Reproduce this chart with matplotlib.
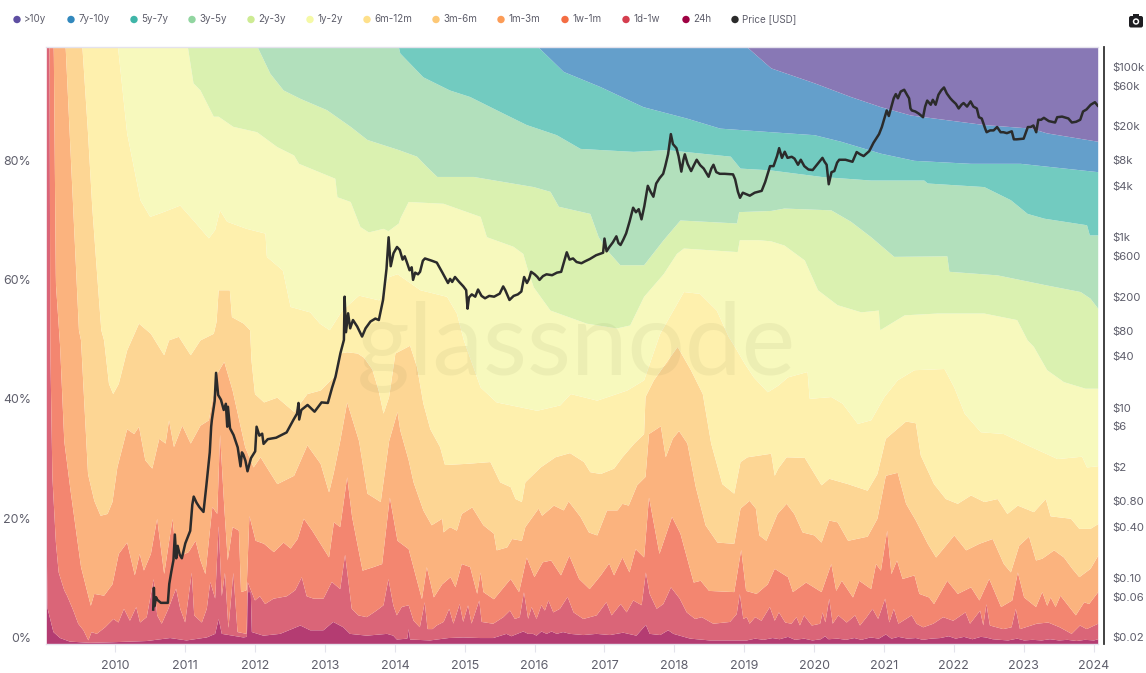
import numpy as np
import matplotlib
matplotlib.use("Agg")
import matplotlib.pyplot as plt
from matplotlib.patches import FancyBboxPatch, Circle, Rectangle
from matplotlib.transforms import Affine2D

W, H = 1146, 673
plt.rcParams['font.family'] = ['Inter', 'DejaVu Sans']

legend_names = ['>10y', '7y-10y', '5y-7y', '3y-5y', '2y-3y', '1y-2y', '6m-12m', '3m-6m', '1m-3m', '1w-1m', '1d-1w', '24h', 'Price [USD]']
legend_dots = ['#5E4FA2', '#3288BD', '#3FB5A8', '#91D5A0', '#CDEB93', '#F5F9A6', '#FEE08B', '#FDC876', '#FC9C57', '#F46D43', '#D53E4F', '#9E0142', '#2B2B2B']
legend_dot_x = [17, 71, 134, 192, 251, 310, 367, 436, 501, 565, 626, 686, 735]
band_colors = ['#B43C72', '#DA6578', '#F38670', '#FBB37E', '#FDD694', '#FEF0AD', '#F7F9BD', '#DAF1B0', '#B2E0BC', '#72CBC0', '#649FCB', '#8878B5']

year_ticks = list(range(2010, 2025))
pct_ticks = [0, 20, 40, 60, 80]
price_ticks = [0.02, 0.06, 0.10, 0.40, 0.80, 2, 6, 10, 40, 80, 200, 600, 1000, 4000, 8000, 20000, 60000, 100000]
price_labels = ['$0.02', '$0.06', '$0.10', '$0.40', '$0.80', '$2', '$6', '$10', '$40', '$80', '$200', '$600', '$1k', '$4k', '$8k', '$20k', '$60k', '$100k']

# cumulative tops of each band, (year, percent)
top_24h = [(2009.01,100),(2009.012,14),(2009.02,6),(2009.105,2),(2009.2,1),(2009.34,.4),(2009.63,.2),(2009.96,.3),(2010.44,.5),(2010.775,1),(2011.01,.6),(2011.30,1.1),(2011.42,1.7),(2011.47,4.2),(2011.515,1.7),(2011.825,1.1),(2011.875,1.2),(2011.885,8.7),(2011.93,8.7),(2011.945,2),(2012.11,1.4),(2012.35,1.7),(2012.64,3.1),(2012.78,2.3),(2012.97,2.3),(2013.11,3.7),(2013.255,2.8),(2013.35,1.7),(2013.59,1.4),(2013.88,1.7),(2013.97,1.4),(2014.02,.75),(2014.17,.9),(2014.19,2.5),(2014.21,.75),(2014.495,.6),(2014.76,1),(2014.97,1.1),(2015.21,1),(2015.40,1),(2015.59,1.7),(2015.66,1.3),(2015.83,2.1),(2015.9,1.7),(2015.97,1.7),(2016.02,1.4),(2016.09,2.1),(2016.165,1.7),(2016.235,2.1),(2016.31,1.7),(2016.40,2),(2016.5,1.7),(2016.69,1.5),(2016.88,1.7),(2017.07,1.5),(2017.26,1.9),(2017.45,1.4),(2017.585,3.2),(2017.64,1.7),(2017.79,1.5),(2017.905,2.3),(2017.98,1.7),(2018.07,1.4),(2018.22,.9),(2018.5,.6),(2018.79,.6),(2019.03,.6),(2019.15,.9),(2019.27,.7),(2019.4,1),(2019.5,.8),(2019.62,1.2),(2019.72,.7),(2019.85,.9),(2019.97,.6),(2020.09,.8),(2020.15,1.3),(2020.2,.8),(2020.33,.9),(2020.45,.7),(2020.57,1),(2020.67,.7),(2020.8,1.1),(2020.92,.9),(2021.02,1.6),(2021.1,.9),(2021.2,1.2),(2021.33,.9),(2021.45,1),(2021.55,.7),(2021.67,.9),(2021.8,1),(2021.92,1.3),(2022.02,.9),(2022.14,1.2),(2022.26,.8),(2022.38,1.2),(2022.45,1.1),(2022.55,.8),(2022.65,.7),(2022.77,.6),(2022.9,.9),(2023,.6),(2023.12,.7),(2023.25,.6),(2023.37,.8),(2023.5,.6),(2023.62,.7),(2023.75,.5),(2023.87,.7),(2024,.6),(2024.06,.8)]
top_1d = [(2009.01,100),(2009.05,100),(2009.06,50),(2009.09,28),(2009.14,17),(2009.18,12),(2009.26,9),(2009.30,8.1),(2009.39,5.6),(2009.46,3.4),(2009.535,2.3),(2009.605,.6),(2009.65,2),(2009.725,1.7),(2009.845,2.8),(2009.965,4.2),(2010.035,3.6),(2010.115,5.9),(2010.2,3.9),(2010.29,6.2),(2010.345,3.6),(2010.44,4.5),(2010.54,10.9),(2010.59,4.8),(2010.655,3.4),(2010.75,5.9),(2010.86,9.3),(2010.92,5.9),(2010.99,3.6),(2011.085,12),(2011.12,4.8),(2011.23,3.6),(2011.30,5.9),(2011.35,10.4),(2011.42,7.6),(2011.47,20),(2011.515,8),(2011.56,12),(2011.61,2.6),(2011.68,12),(2011.74,2),(2011.87,1.7),(2011.885,10.4),(2011.99,7.3),(2012.06,8),(2012.135,6.7),(2012.255,7.6),(2012.445,8),(2012.565,9),(2012.66,11.2),(2012.73,8),(2012.83,7.6),(2012.97,7.6),(2013.09,10.4),(2013.21,9.2),(2013.28,15),(2013.375,5.9),(2013.47,4.8),(2013.59,4.5),(2013.73,5.6),(2013.83,6.5),(2013.9,10.9),(2013.97,6.5),(2014.02,4.8),(2014.09,6.2),(2014.19,6.5),(2014.26,3.9),(2014.35,2.8),(2014.42,7),(2014.46,2.5),(2014.53,2.5),(2014.59,3.1),(2014.69,3.7),(2014.77,5.9),(2014.83,3.4),(2014.92,6.7),(2014.97,3.7),(2015.04,6.5),(2015.09,3.4),(2015.2,7.3),(2015.235,3.7),(2015.40,3.4),(2015.545,4.5),(2015.64,5.6),(2015.71,4.2),(2015.78,4.5),(2015.84,8.7),(2015.9,4.2),(2015.95,6.2),(2016.02,4.2),(2016.09,6.5),(2016.14,5.6),(2016.19,7.3),(2016.26,5.3),(2016.355,5.9),(2016.465,7.9),(2016.55,5.3),(2016.69,4.2),(2016.88,4.8),(2017.02,7),(2017.095,4.8),(2017.225,6.7),(2017.31,5.3),(2017.405,7.3),(2017.525,6.5),(2017.585,12),(2017.64,8.4),(2017.74,5.9),(2017.835,6.7),(2017.945,9.5),(2018.07,7.6),(2018.17,5.3),(2018.29,4.2),(2018.385,4.5),(2018.55,3.4),(2018.79,3.7),(2018.885,5),(2018.93,8.4),(2018.98,4.2),(2019.03,4.5),(2019.07,3.4),(2019.15,4.5),(2019.24,3.9),(2019.36,6.2),(2019.43,3.9),(2019.49,5.3),(2019.58,3.6),(2019.67,3.4),(2019.74,4.5),(2019.79,3.1),(2019.85,4.8),(2019.96,3.1),(2020.08,3.4),(2020.115,5.3),(2020.155,3.6),(2020.21,7.6),(2020.26,3.4),(2020.34,4.8),(2020.46,3.6),(2020.58,4.8),(2020.65,3.1),(2020.745,4.5),(2020.83,5.9),(2020.91,4.2),(2021.01,7.6),(2021.07,3.6),(2021.135,5.9),(2021.2,3.4),(2021.39,4.8),(2021.46,3.4),(2021.555,2.8),(2021.7,3.4),(2021.84,4.5),(2021.985,3.9),(2022.16,5.3),(2022.225,3.4),(2022.37,5.6),(2022.415,3.1),(2022.46,6.7),(2022.51,3.1),(2022.7,2.5),(2022.82,2.8),(2022.88,5.9),(2022.94,2.5),(2023.18,3.4),(2023.345,3.6),(2023.51,2.8),(2023.68,1.7),(2023.8,3.1),(2023.895,2.5),(2024.06,3.4)]
top_1w = [(2009.01,100),(2009.11,100),(2009.14,60.4),(2009.2,50),(2009.26,34),(2009.35,25.7),(2009.5,12.9),(2009.64,6.4),(2009.69,8.4),(2009.83,8.1),(2009.95,10),(2010.04,15.1),(2010.16,17),(2010.27,11.5),(2010.34,15.1),(2010.40,12.3),(2010.5,15.1),(2010.59,21),(2010.69,11.7),(2010.81,21),(2010.86,15.1),(2010.93,14.8),(2011.04,15.4),(2011.14,17.3),(2011.21,14),(2011.28,11.7),(2011.38,23),(2011.45,21.8),(2011.49,35.2),(2011.55,23),(2011.6,14),(2011.67,19.6),(2011.76,19),(2011.79,8.7),(2011.87,9),(2011.91,21.5),(2012,17.3),(2012.12,16.8),(2012.26,15.4),(2012.4,17),(2012.5,16),(2012.6,17.6),(2012.69,21),(2012.81,19),(2013.05,14.5),(2013.12,20.4),(2013.21,19.6),(2013.31,28),(2013.38,21.3),(2013.53,12.3),(2013.69,12.9),(2013.81,13.4),(2013.92,24.6),(2014.03,17.3),(2014.19,15.9),(2014.38,7.5),(2014.45,12.9),(2014.55,7.8),(2014.67,10),(2014.79,11.2),(2014.86,9.5),(2014.95,13.4),(2015.07,12.9),(2015.17,8.4),(2015.22,12),(2015.26,8.7),(2015.41,7.5),(2015.53,9.2),(2015.65,10.9),(2015.77,8.7),(2015.88,14.5),(2015.99,11.2),(2016.11,13.7),(2016.23,14),(2016.37,11.5),(2016.49,14.8),(2016.63,10.9),(2016.78,9.2),(2016.94,11.5),(2017.06,13.5),(2017.13,11.5),(2017.25,14.5),(2017.35,12),(2017.44,15.9),(2017.56,14.5),(2017.63,24.6),(2017.78,15.1),(2017.96,21.3),(2018.08,18.5),(2018.27,10.3),(2018.37,10.6),(2018.49,8.9),(2018.85,8.7),(2018.95,15.8),(2019.02,8.9),(2019.17,8.4),(2019.33,10),(2019.43,12.6),(2019.62,11.2),(2019.69,8.7),(2019.88,10.3),(2020.1,8.7),(2020.24,13.4),(2020.31,8.9),(2020.39,10.6),(2020.55,7.8),(2020.64,10.6),(2020.81,9.2),(2020.88,13.4),(2020.95,12.3),(2021.04,19),(2021.1,11.7),(2021.18,14),(2021.26,10.9),(2021.43,11.5),(2021.5,8.4),(2021.64,7.8),(2021.71,6.7),(2021.9,10.6),(2022.05,8.4),(2022.24,9.5),(2022.36,7.3),(2022.5,10.9),(2022.67,6.2),(2022.83,7.3),(2022.91,12),(2023,7.8),(2023.17,6.2),(2023.26,8.7),(2023.33,6.4),(2023.38,7.8),(2023.45,6.2),(2023.52,8.1),(2023.74,4.8),(2023.86,7),(2023.93,6.7),(2024.06,8.7)]
top_1m = [(2009.01,100),(2009.28,100),(2009.47,52.6),(2009.5,50.9),(2009.55,39.7),(2009.6,28.5),(2009.69,24),(2009.78,21.5),(2009.88,21.8),(2009.95,23.8),(2010.02,29.6),(2010.16,36),(2010.26,35.2),(2010.33,36.4),(2010.42,30.8),(2010.52,29.4),(2010.62,34.4),(2010.71,33.6),(2010.76,37.5),(2010.83,33),(2010.95,36.6),(2011.07,33.6),(2011.21,36.6),(2011.33,37.5),(2011.45,45.3),(2011.55,47.3),(2011.67,42.5),(2011.85,33),(2011.97,29.6),(2012.07,31.3),(2012.17,29.4),(2012.31,26.8),(2012.55,28.2),(2012.74,33.3),(2012.93,30.2),(2013.05,25.4),(2013.12,28.8),(2013.21,34),(2013.31,40.5),(2013.48,34),(2013.6,25.2),(2013.79,23.8),(2013.91,34),(2014.03,38.9),(2014.07,35.8),(2014.19,30.8),(2014.26,27.1),(2014.4,22.4),(2014.52,19.9),(2014.67,21),(2014.69,18.7),(2014.78,19.6),(2014.88,19),(2014.95,21.8),(2015.1,22.9),(2015.26,19.9),(2015.41,18.5),(2015.45,15.7),(2015.6,16.2),(2015.67,17.6),(2015.81,17.3),(2015.86,19.6),(2016.05,22.7),(2016.1,21.5),(2016.27,23.2),(2016.41,22.4),(2016.48,23.9),(2016.65,21.3),(2016.77,18.7),(2016.89,18.2),(2017.03,22.4),(2017.18,22.4),(2017.25,23.5),(2017.34,23.2),(2017.46,26.6),(2017.58,28),(2017.63,35.2),(2017.8,36.5),(2017.87,31.3),(2017.97,34.4),(2018.06,35.7),(2018.18,33.6),(2018.3,26.3),(2018.44,19.9),(2018.61,17),(2018.85,16.8),(2018.94,22.7),(2019.07,24),(2019.16,22.7),(2019.21,18.2),(2019.31,17.3),(2019.47,21.8),(2019.6,23.5),(2019.71,21.8),(2019.83,18.7),(2020,18.2),(2020.1,17),(2020.21,20.7),(2020.33,20.4),(2020.48,17.3),(2020.76,18),(2020.9,21),(2021.02,28.2),(2021.19,28.7),(2021.31,23.5),(2021.45,20.7),(2021.62,16.8),(2021.74,14.5),(2021.86,16.2),(2022,18.2),(2022.17,15.7),(2022.36,16.8),(2022.55,17.6),(2022.71,13.4),(2022.81,12),(2022.93,16.5),(2023.07,18),(2023.17,14),(2023.26,14.3),(2023.43,15.7),(2023.57,14.5),(2023.69,12.6),(2023.79,11.2),(2023.95,12.6),(2024.06,14.8)]
top_3m = [(2009.01,100),(2009.52,100),(2009.6,85.6),(2009.66,73.3),(2009.73,62),(2009.79,52.6),(2009.83,50.9),(2009.9,43.6),(2009.96,41.9),(2010.04,43.6),(2010.16,49.2),(2010.33,53.7),(2010.5,52),(2010.69,48.4),(2010.76,50.9),(2010.9,51.5),(2011.07,48.4),(2011.21,50.9),(2011.4,52),(2011.44,54),(2011.47,59.3),(2011.63,59.3),(2011.66,54.8),(2011.83,53.7),(2011.92,52.6),(2011.94,47.5),(2011.99,41.9),(2012.12,40.5),(2012.31,41.3),(2012.55,38.9),(2012.74,41.9),(2012.93,42.5),(2013.12,44.7),(2013.21,48.7),(2013.31,48.9),(2013.46,48.7),(2013.55,48),(2013.67,46),(2013.76,42.5),(2013.83,38.6),(2013.91,41.4),(2014,48.7),(2014.21,50),(2014.31,46.4),(2014.4,40.3),(2014.5,36),(2014.64,33),(2014.71,30),(2015.02,30.2),(2015.36,30.5),(2015.5,27.1),(2015.65,26.3),(2015.72,24.3),(2015.81,23.8),(2015.86,27.1),(2016.08,29.6),(2016.29,31.3),(2016.5,32),(2016.7,30.5),(2016.79,28.8),(2016.94,28.5),(2017.13,29.4),(2017.25,31.3),(2017.42,33.6),(2017.56,35.2),(2017.58,41.4),(2017.7,44.2),(2018.04,49.8),(2018.23,45.9),(2018.4,41.9),(2018.52,33.6),(2018.68,26.8),(2018.85,25.2),(2018.94,30.5),(2019.04,31.3),(2019.38,31.9),(2019.43,28.2),(2019.48,29.4),(2019.6,31.3),(2019.86,31.2),(2020.1,26.6),(2020.21,27.7),(2020.48,26.8),(2020.76,25.7),(2020.9,28.5),(2021.02,34.4),(2021.31,37.3),(2021.45,37),(2021.52,31.6),(2021.71,26.8),(2021.88,24.3),(2022.05,23.5),(2022.24,24.9),(2022.43,23.8),(2022.62,24.3),(2022.76,21.8),(2022.91,23.2),(2023.14,22.1),(2023.31,24.3),(2023.38,21.4),(2023.67,21),(2023.79,19.3),(2023.95,19.3),(2024.06,20.1)]
top_6m = [(2009.01,100),(2010.03,100),(2010.16,85.6),(2010.35,74.4),(2010.49,71.6),(2010.68,72.4),(2010.92,73.5),(2011.11,71),(2011.33,68),(2011.42,69.4),(2011.49,72.7),(2011.59,70.8),(2011.87,69.6),(2012.14,68.8),(2012.16,64.9),(2012.39,62.6),(2012.5,56.5),(2012.78,55.6),(2012.92,53.7),(2013.06,52.6),(2013.24,55.9),(2013.48,58.4),(2013.77,57.6),(2013.91,61.5),(2014.03,62),(2014.36,59.3),(2014.74,58.2),(2014.88,55.4),(2014.98,50.9),(2015.22,43),(2015.45,40.5),(2016.03,39.1),(2016.36,40),(2016.51,41.9),(2016.89,40.8),(2017.32,42.5),(2017.56,44.2),(2017.79,52),(2018.13,59),(2018.36,58.7),(2018.6,55.9),(2018.77,51.5),(2018.85,50),(2019,47),(2019.13,44.7),(2019.33,42.2),(2019.48,43.3),(2019.62,44.7),(2019.9,45.6),(2019.93,41.1),(2020.24,41.4),(2020.4,40.3),(2020.62,36.9),(2020.81,37.5),(2021,41.4),(2021.19,44.2),(2021.43,45.9),(2021.86,46.1),(2022,43),(2022.15,38.6),(2022.38,35.5),(2022.71,35.2),(2023.05,33.3),(2023.48,31),(2023.83,31.4),(2023.9,29.6),(2024.06,29.8)]
top_1y = [(2009.01,100),(2011.03,100),(2011.11,94),(2011.21,92.8),(2011.4,88.4),(2011.47,88.4),(2011.68,86.7),(2012.02,85.8),(2012.31,83.3),(2012.55,81.9),(2012.62,80.5),(2013.14,78),(2013.17,74.9),(2013.36,74.1),(2013.5,69.9),(2013.62,69),(2013.83,69.6),(2013.9,69.2),(2014.05,70.5),(2014.07,71.3),(2014.19,74.1),(2014.69,73.8),(2015.22,71.6),(2015.31,68.2),(2015.69,66.6),(2015.83,65.4),(2015.9,62.6),(2015.98,59.8),(2016.22,55.9),(2016.74,53.7),(2017.17,52.9),(2017.36,53.4),(2017.56,58.2),(2017.84,62),(2018.03,65.4),(2018.13,66.3),(2018.9,65.7),(2018.93,67.7),(2019.2,67.7),(2019.38,67.5),(2019.57,66.8),(2019.86,64.3),(2020.05,59.3),(2020.33,56.8),(2020.67,55.6),(2020.92,55.9),(2020.94,52.6),(2021.29,55.1),(2021.76,55.4),(2022.43,55.4),(2022.9,54.3),(2023.05,50.9),(2023.14,49.8),(2023.33,45.9),(2023.57,43.9),(2023.88,42.8),(2024.06,42.8)]
top_2y = [(2009.01,100),(2012.03,100),(2012.21,95.6),(2012.4,92.8),(2012.64,91.4),(2013.02,89.5),(2013.36,86.7),(2013.6,84.5),(2014.05,82.8),(2014.31,81.7),(2014.45,80),(2014.6,78.3),(2015.12,78.3),(2015.98,76.6),(2016.22,75.8),(2016.34,73.3),(2016.79,72.1),(2016.91,68.2),(2017.03,66),(2017.22,63.5),(2017.56,63.5),(2017.84,67.7),(2018.08,71),(2018.89,70.5),(2018.92,72.4),(2019.38,72.6),(2019.57,73),(2020.24,72.7),(2020.52,70.8),(2020.81,68.2),(2021.14,64.9),(2021.9,65),(2021.93,62.4),(2022.62,61.8),(2023.33,60.1),(2023.81,59),(2023.95,57.9),(2024.06,56.2)]
top_3y = [(2009.01,100),(2014.05,100),(2014.07,99),(2014.4,95),(2014.78,92.8),(2015.07,91.7),(2015.55,88.9),(2015.88,87),(2016.31,85.3),(2016.65,83),(2017.41,82.5),(2017.89,82.8),(2018.8,81.7),(2018.94,79.7),(2019.37,79.4),(2020.1,78.3),(2020.81,77.7),(2021.57,77.7),(2021.62,77.2),(2022.43,76.6),(2022.81,74.4),(2023.05,72.1),(2023.29,71.3),(2023.9,70.2),(2023.94,68.5),(2024.06,68.5)]
top_5y = [(2009.01,100),(2016.05,100),(2016.41,95.9),(2016.93,93.4),(2017.55,90),(2018.17,88.1),(2018.65,86.4),(2019.38,85.8),(2020,85.3),(2020.38,84.2),(2020.95,82.2),(2021.43,81),(2022.24,80.5),(2022.95,80.5),(2024.06,79.1)]
top_7y = [(2009.01,100),(2019.04,100),(2019.38,96.5),(2020,94),(2020.52,91.7),(2020.95,90),(2021.38,88.6),(2022.43,87),(2023.1,86.4),(2023.33,85.6),(2024.06,84.2)]
band_tops = [top_24h, top_1d, top_1w, top_1m, top_3m, top_6m, top_1y, top_2y, top_3y, top_5y, top_7y]

# price (year, USD)
price = [(2010.54,.05),(2010.55,.09),(2010.56,.055),(2010.58,.07),(2010.6,.065),(2010.65,.06),(2010.75,.06),(2010.77,.1),(2010.8,.14),(2010.83,.19),(2010.85,.38),(2010.87,.2),(2010.89,.28),(2010.92,.22),(2010.95,.2),(2011.0,.3),(2011.07,.42),(2011.1,.85),(2011.12,1.06),(2011.16,.9),(2011.2,.8),(2011.26,.7),(2011.3,1.4),(2011.35,3.5),(2011.37,7),(2011.38,8.4),(2011.42,14),(2011.44,30),(2011.47,16.5),(2011.51,14.5),(2011.55,11),(2011.58,13),(2011.6,7),(2011.61,12),(2011.64,6.7),(2011.69,5.6),(2011.75,4),(2011.79,2.4),(2011.81,3.5),(2011.83,3.3),(2011.86,2.8),(2011.89,2.1),(2011.94,3),(2012,3.6),(2012.02,7),(2012.06,5.5),(2012.1,5.8),(2012.12,4.4),(2012.18,5),(2012.3,5.2),(2012.45,6),(2012.55,8.5),(2012.6,10),(2012.62,13.3),(2012.63,8.5),(2012.66,11),(2012.75,12.6),(2012.85,10.5),(2012.95,13.5),(2013.04,13.3),(2013.1,20),(2013.15,27),(2013.22,51),(2013.27,73),(2013.28,235),(2013.3,90),(2013.33,150),(2013.36,100),(2013.4,125),(2013.46,105),(2013.53,80),(2013.58,100),(2013.65,120),(2013.72,130),(2013.77,125),(2013.83,215),(2013.88,500),(2013.91,1170),(2013.94,535),(2013.98,760),(2014.03,900),(2014.07,830),(2014.11,640),(2014.14,700),(2014.17,600),(2014.21,480),(2014.24,520),(2014.26,370),(2014.29,450),(2014.33,430),(2014.36,460),(2014.4,620),(2014.43,660),(2014.48,640),(2014.53,620),(2014.6,590),(2014.65,500),(2014.68,450),(2014.72,390),(2014.76,340),(2014.79,380),(2014.82,350),(2014.86,400),(2014.92,350),(2014.98,310),(2015.02,280),(2015.04,170),(2015.06,230),(2015.1,250),(2015.15,235),(2015.19,285),(2015.24,240),(2015.29,225),(2015.35,240),(2015.42,235),(2015.5,255),(2015.55,310),(2015.58,280),(2015.64,215),(2015.7,240),(2015.76,250),(2015.81,270),(2015.85,400),(2015.89,340),(2015.92,380),(2015.95,460),(2016,430),(2016.04,400),(2016.07,370),(2016.12,410),(2016.17,430),(2016.25,420),(2016.32,450),(2016.38,460),(2016.42,600),(2016.46,780),(2016.5,640),(2016.55,660),(2016.6,600),(2016.67,580),(2016.72,610),(2016.79,650),(2016.88,720),(2016.98,770),(2017,1130),(2017.03,800),(2017.07,900),(2017.12,1020),(2017.17,1200),(2017.2,1000),(2017.23,950),(2017.27,1100),(2017.31,1300),(2017.36,1800),(2017.41,2600),(2017.45,2300),(2017.49,2500),(2017.53,1900),(2017.57,2700),(2017.62,4700),(2017.66,4000),(2017.7,3500),(2017.74,5000),(2017.79,5800),(2017.84,6500),(2017.87,8000),(2017.91,11000),(2017.95,19000),(2017.98,14500),(2018.03,13000),(2018.06,10500),(2018.1,6900),(2018.13,9500),(2018.15,11000),(2018.19,8500),(2018.24,7000),(2018.28,8200),(2018.32,9500),(2018.37,8200),(2018.42,7500),(2018.49,6000),(2018.53,7500),(2018.56,8300),(2018.6,6800),(2018.65,6500),(2018.72,6500),(2018.84,6400),(2018.87,5600),(2018.91,4000),(2018.94,3400),(2018.98,3900),(2019.08,3600),(2019.15,3900),(2019.25,4100),(2019.3,5200),(2019.37,8000),(2019.42,8000),(2019.47,10500),(2019.5,13000),(2019.54,10000),(2019.58,11800),(2019.62,10000),(2019.68,10300),(2019.72,9800),(2019.77,8300),(2019.81,9500),(2019.86,8000),(2019.92,7300),(2019.98,7200),(2020.05,8500),(2020.12,10000),(2020.15,9000),(2020.18,8300),(2020.21,4900),(2020.25,6800),(2020.29,7000),(2020.33,8800),(2020.36,9500),(2020.45,9500),(2020.55,9000),(2020.61,11700),(2020.66,11000),(2020.71,10500),(2020.79,12000),(2020.85,15000),(2020.93,19000),(2020.97,23000),(2021.04,36000),(2021.07,31000),(2021.1,38000),(2021.14,50000),(2021.17,56000),(2021.2,50000),(2021.24,60000),(2021.29,63000),(2021.33,55000),(2021.36,50000),(2021.38,38000),(2021.4,36000),(2021.45,35000),(2021.5,33000),(2021.56,30000),(2021.59,40000),(2021.62,47000),(2021.67,42000),(2021.7,48000),(2021.74,42000),(2021.78,55000),(2021.82,62000),(2021.86,67000),(2021.9,57000),(2021.95,50000),(2021.98,47000),(2022.03,43000),(2022.07,38000),(2022.11,42000),(2022.14,44000),(2022.19,40000),(2022.24,46000),(2022.28,40000),(2022.33,38000),(2022.36,30000),(2022.4,29000),(2022.45,22000),(2022.47,20000),(2022.52,21000),(2022.57,21000),(2022.62,23000),(2022.67,20000),(2022.71,20000),(2022.76,19500),(2022.83,20500),(2022.86,16500),(2022.9,16500),(2023.0,16800),(2023.06,23000),(2023.1,23000),(2023.14,24000),(2023.18,20000),(2023.21,28000),(2023.25,28000),(2023.29,29500),(2023.36,27000),(2023.45,26000),(2023.48,30000),(2023.55,30500),(2023.64,29000),(2023.69,26000),(2023.75,26500),(2023.81,28000),(2023.85,35000),(2023.9,37000),(2023.96,42000),(2024.02,45000),(2024.06,41000)]

X0, X1 = 2009.01, 2024.06
L, R, T, B = 46.3, 1097.7, 47.0, 643.5

fig = plt.figure(figsize=(W/100, H/100), dpi=100, facecolor='white')
ax = fig.add_axes([L/W, 1-B/H, (R-L)/W, (B-T)/H])

grid = np.arange(X0, X1, 1/365.25)
lower = np.zeros_like(grid)
for tops, col in zip(band_tops + [None], band_colors):
    if tops is None:
        upper = np.full_like(grid, 100.0)
    else:
        a = np.array(tops)
        upper = np.maximum(lower, np.interp(grid, a[:, 0], a[:, 1]))
    ax.fill_between(grid, lower, upper, color=col, lw=0, zorder=2)
    lower = upper

ax.set_xlim(X0, X1)
ax.set_ylim(0, 100)
ax.set_xticks(year_ticks)
ax.set_xticklabels([str(y) for y in year_ticks])
ax.set_yticks(pct_ticks)
ax.set_yticklabels([f'{p}%' for p in pct_ticks])
TXT = '#5E5E6B'
ax.tick_params(axis='y', length=0, pad=11, labelsize=8.9, labelcolor=TXT)
ax.tick_params(axis='x', length=6, width=0.8, color='#E3E3EC', pad=6, labelsize=9, labelcolor=TXT)
for s in ['left', 'right']:
    ax.spines[s].set_visible(False)
for s in ['top', 'bottom']:
    ax.spines[s].set_color('#E4E2EC')
    ax.spines[s].set_linewidth(1)

ax2 = ax.twinx()
ax2.set_yscale('log')
ax2.set_ylim(0.02, 200000)
ax2.set_xlim(X0, X1)
ax2.set_yticks(price_ticks)
ax2.set_yticklabels(price_labels)
ax2.minorticks_off()
ax2.tick_params(axis='y', which='both', length=0, pad=6.2, labelsize=8.2, labelcolor=TXT)
for s in ['left', 'top', 'bottom']:
    ax2.spines[s].set_visible(False)
ax2.spines['right'].set_position(('outward', 4.5))
ax2.spines['right'].set_color('#333333')
ax2.spines['right'].set_linewidth(1.3)
ax2.patch.set_visible(False)
pa = np.array(price)
ax2.plot(pa[:, 0], pa[:, 1], color='#2B2B2B', lw=1.8, solid_joinstyle='round', zorder=5)

# value-axis labels sit 6 px above their tick position
for lab in ax.get_yticklabels() + ax2.get_yticklabels():
    lab.set_transform(lab.get_transform() + Affine2D().translate(0, 6))

fig.text(576/W, 1-375/H, 'glassnode', ha='center', va='baseline', fontsize=73,
         color='#6B6B3A', alpha=0.075, family=['Lato', 'DejaVu Sans'], zorder=4)
ax2.set_zorder(6)

ov = fig.add_axes([0, 0, 1, 1], zorder=10)
ov.set_xlim(0, W)
ov.set_ylim(H, 0)
ov.axis('off')
for name, col, x in zip(legend_names, legend_dots, legend_dot_x):
    ov.add_patch(Circle((x, 19.5), 3.7, color=col, lw=0))
    ov.text(x+7.3, 19.5, name, fontsize=7.05, color=TXT, va='center', ha='left')
ov.add_patch(FancyBboxPatch((1129, 16), 14, 11.5, boxstyle='round,pad=0,rounding_size=2', color='#1E1E22', lw=0))
ov.add_patch(Rectangle((1133, 13.5), 6, 3, color='#1E1E22', lw=0))
ov.add_patch(Circle((1136, 21.5), 3.2, color='white', lw=0))
ov.add_patch(Circle((1136, 21.5), 1.7, color='#1E1E22', lw=0))

fig.savefig('out.png', dpi=100)
